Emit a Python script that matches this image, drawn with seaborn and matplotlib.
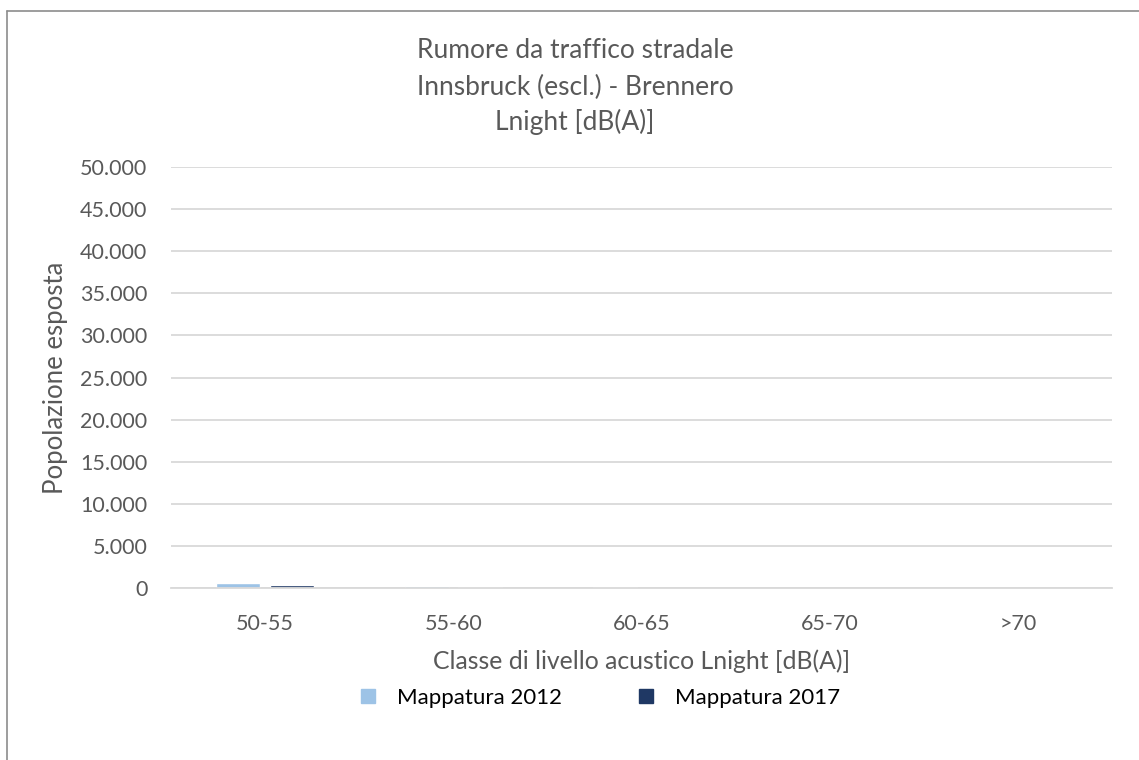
import matplotlib
matplotlib.use("Agg")
import matplotlib.pyplot as plt
import matplotlib.ticker as mticker
from matplotlib.lines import Line2D
import seaborn as sns
import pandas as pd

categories = ["50-55", "55-60", "60-65", "65-70", ">70"]
series_names = ["Mappatura 2012", "Mappatura 2017"]
values_2012 = [520, 200, 40, 0, 0]
values_2017 = [290, 50, 5, 0, 0]
y_ticks = [0, 5000, 10000, 15000, 20000, 25000, 30000, 35000, 40000, 45000, 50000]
title_lines = ["Rumore da traffico stradale", "Innsbruck (escl.) - Brennero", "Lnight [dB(A)]"]
x_label = "Classe di livello acustico Lnight [dB(A)]"
y_label = "Popolazione esposta"

df = pd.DataFrame({
    "Classe": categories * 2,
    "Serie": [series_names[0]] * len(categories) + [series_names[1]] * len(categories),
    "Valore": values_2012 + values_2017,
})

sns.set_theme(style="white")
plt.rcParams["font.family"] = ["Lato", "DejaVu Sans"]

TXT = "#595959"
fig = plt.figure(figsize=(11.39, 7.60), dpi=100)
ax = fig.add_axes([171 / 1139, 1 - 587.7 / 760, (1112 - 171) / 1139, (587.7 - 167.3) / 760])

sns.barplot(data=df, x="Classe", y="Valore", hue="Serie", order=categories,
            hue_order=series_names, palette=["#9DC3E6", "#1F3864"],
            width=0.569, gap=0.178, ax=ax, legend=False, saturation=1)

ax.set_ylim(0, 50000)
ax.set_yticks(y_ticks)
ax.yaxis.set_major_formatter(mticker.FuncFormatter(lambda v, p: f"{int(v):,}".replace(",", ".")))
ax.grid(axis="y", color="#D9D9D9", linewidth=1.3)
ax.set_axisbelow(True)
for s in ["top", "right", "left"]:
    ax.spines[s].set_visible(False)
ax.spines["bottom"].set_color("#D9D9D9")
ax.spines["bottom"].set_linewidth(1.3)
ax.tick_params(axis="both", length=0, labelsize=15.5, colors=TXT)
ax.tick_params(axis="y", pad=17)
ax.tick_params(axis="x", pad=19)
ax.set_xlabel(x_label, fontsize=17.8, color=TXT, labelpad=11)
ax.set_ylabel(y_label, fontsize=18.5, color=TXT, labelpad=9)

ys = [50, 87, 122]
for t, y in zip(title_lines, ys):
    fig.text(575 / 1139, 1 - y / 760, t, ha="center", va="center", fontsize=19, color=TXT)

handles = [Line2D([0], [0], marker="s", linestyle="none", markersize=10.5,
                  markerfacecolor=c, markeredgecolor=c) for c in ["#9DC3E6", "#1F3864"]]
fig.legend(handles, series_names, loc="center", bbox_to_anchor=(598.5 / 1139, 1 - 698 / 760),
           ncol=2, frameon=False, fontsize=16, handlelength=1.0, handletextpad=0.8,
           columnspacing=3.3, labelcolor="#000000")

fig.add_artist(Line2D([7 / 1139, 7 / 1139], [0, 1 - 11 / 760], transform=fig.transFigure,
                      color="#8C8C8C", linewidth=1.2))
fig.add_artist(Line2D([7 / 1139, 1], [1 - 11 / 760, 1 - 11 / 760], transform=fig.transFigure,
                      color="#8C8C8C", linewidth=1.2))

fig.savefig("out.png", dpi=100, facecolor="white")
